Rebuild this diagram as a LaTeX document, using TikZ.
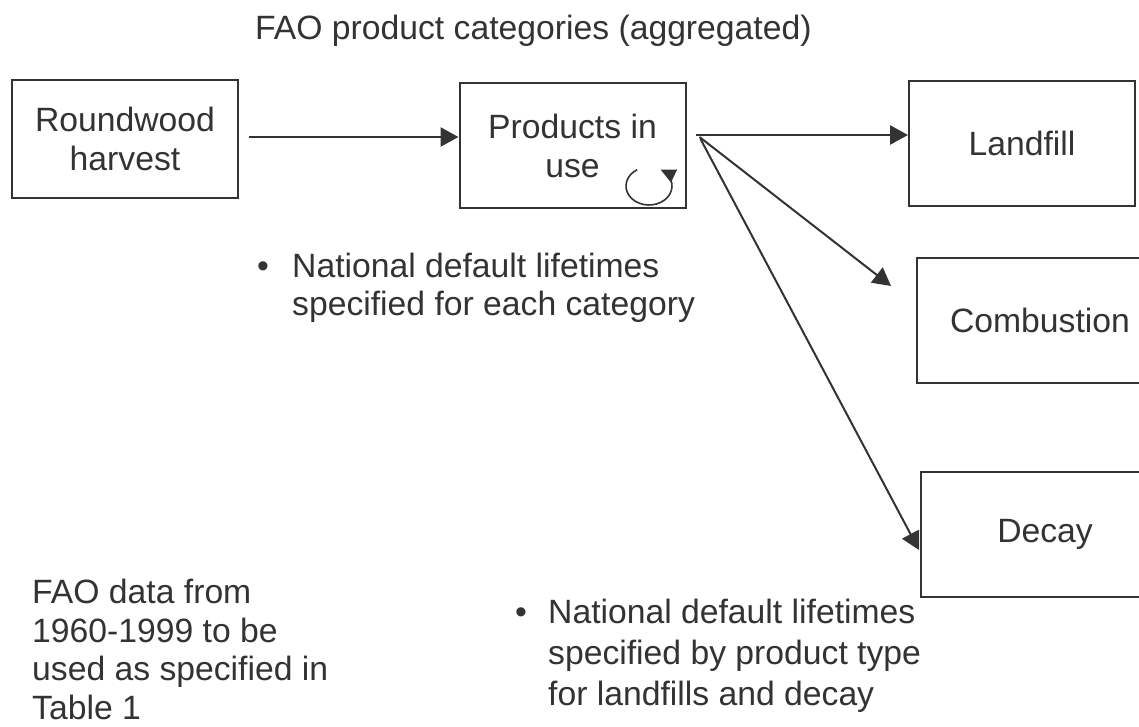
\documentclass[tikz,border=0pt]{standalone}
\usepackage{fontspec}
\setmainfont{Liberation Sans}
\usetikzlibrary{arrows.meta,positioning}

\definecolor{ink}{HTML}{333333}

\tikzset{
    blk/.style={draw=ink, line width=2pt, text=ink, align=center, inner sep=0pt,
        minimum width=226pt, minimum height=125pt, font=\fontsize{33.7}{39}\selectfont},
    txt/.style={text=ink, align=left, inner sep=0pt, anchor=base west,
        font=\fontsize{33.7}{39}\selectfont},
    flow/.style={draw=ink, line width=2.7pt, -{Triangle[length=18pt,width=19pt]}},
    thin flow/.style={flow, line width=2pt},
    cyc/.style={draw=ink, line width=1.6pt, -{Triangle[length=15pt,width=14pt]}}
}

\begin{document}
\begin{tikzpicture}[x=1pt, y=-1pt, on grid]
    \fill[white] (0,0) rectangle (1139,726);
    \useasboundingbox (0,0) rectangle (1139,726);
    \clip (0,0) rectangle (1139,726);

    \node[blk, minimum height=118pt] (rw) at (125,139) {Roundwood\\harvest};
    \node[blk] (use) [below right=6.5pt and 447.5pt of rw] {Products in\\use};
    \node[blk] (land) [above right=2pt and 449.5pt of use] {Landfill};
    \node[blk, minimum width=246pt] (comb) [below right=176.5pt and 18pt of land] {Combustion};
    \node[blk, minimum width=248pt] (decay) [below right=214pt and 5pt of comb] {Decay};

    % multi-line notes sit on the baseline of their last line
    \node[txt] (title) at (255,39) {FAO product categories (aggregated)};
    \node[txt, anchor=base] (dot1) at (263,277) {\textbullet};
    \node[txt, font=\fontsize{33.7}{38}\selectfont] (note1) at (292,315)
        {National default lifetimes\\specified for each category};
    \node[txt, anchor=base] (dot2) at (521,623) {\textbullet};
    \node[txt, font=\fontsize{33.7}{41}\selectfont] (note2) at (548,705)
        {National default lifetimes\\specified by product type\\for landfills and decay};
    \node[txt, font=\fontsize{33.7}{38.5}\selectfont] (src) at (32,719)
        {FAO data from\\1960-1999 to be\\used as specified in\\Table 1};

    \coordinate (fork) at ([xshift=9pt,yshift=10.5pt]use.east);

    \draw[flow] ([xshift=10pt,yshift=2pt]rw.east) -- ([yshift=2pt]rw.east -| use.west);
    \draw[flow] (fork) -- (fork -| land.west);
    \draw[thin flow] ([xshift=4pt,yshift=-2pt]fork) -- ([xshift=-25pt,yshift=34pt]comb.west);
    \draw[thin flow] ([xshift=5pt,yshift=-4pt]fork) -- ([xshift=-1pt,yshift=-16pt]decay.west);

    \draw[cyc] ([xshift=76.5pt,yshift=-40.5pt]use.center) ++(121:23pt and 19pt)
        arc[start angle=121, end angle=420, x radius=23pt, y radius=19pt];
\end{tikzpicture}
\end{document}
